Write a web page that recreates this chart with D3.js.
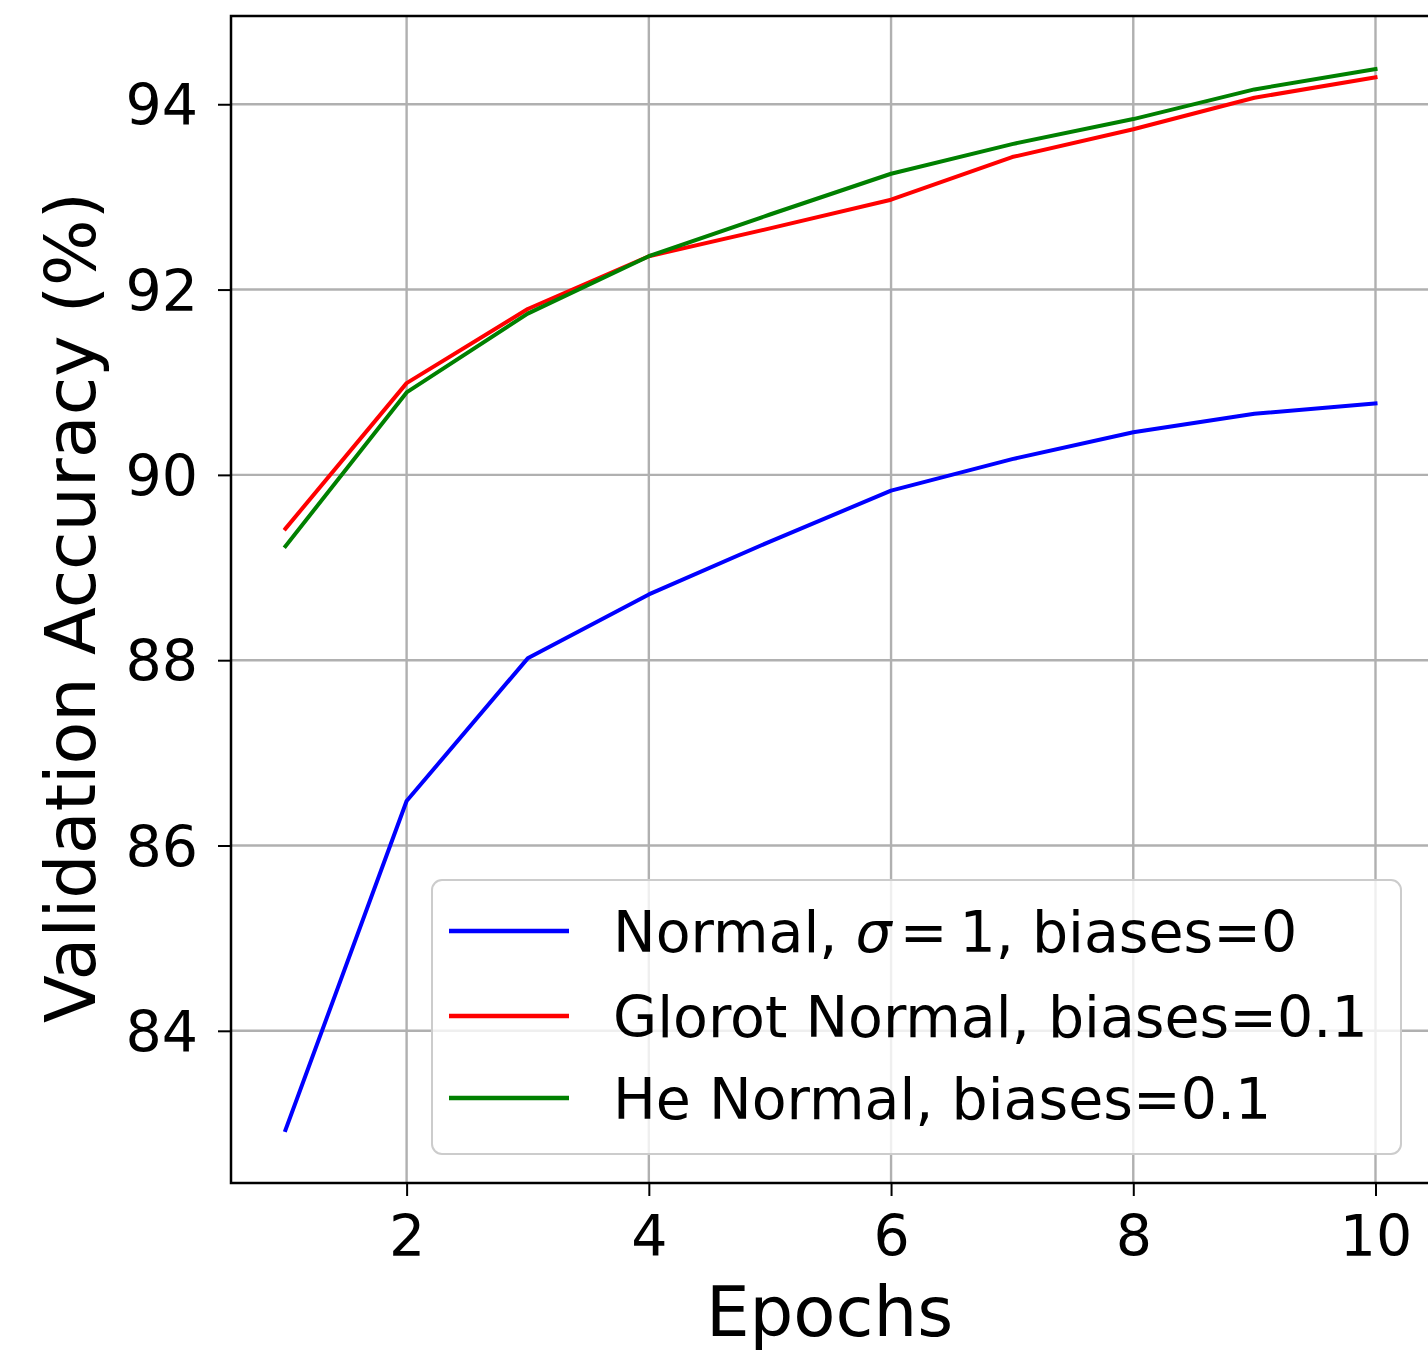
<!DOCTYPE html>
<html>
<head>
<meta charset="utf-8">
<script src="https://cdn.jsdelivr.net/npm/d3@7"></script>
<style>
  html, body { margin: 0; padding: 0; background: #fff; }
  svg { display: block; }
  text { font-family: "DejaVu Sans", sans-serif; fill: #000; }
</style>
</head>
<body>
<svg id="chart" width="1428" height="1355"></svg>
<script>
// ---- data ----
const epochs = [1, 2, 3, 4, 5, 6, 7, 8, 9, 10];
const normalSigma1 = [82.93, 86.48, 88.02, 88.71, 89.28, 89.83, 90.17, 90.46, 90.66, 90.77];
const glorotNormal = [89.42, 90.99, 91.79, 92.36, 92.66, 92.97, 93.43, 93.73, 94.07, 94.29];
const heNormal     = [89.23, 90.89, 91.74, 92.36, 92.81, 93.25, 93.57, 93.84, 94.16, 94.38];
const xTicks = [2, 4, 6, 8, 10];
const yTicks = [84, 86, 88, 90, 92, 94];
const seriesNames = ["Normal", "Glorot Normal, biases=0.1", "He Normal, biases=0.1"];
const seriesColors = ["#0000ff", "#ff0000", "#008000"];
const xLabel = "Epochs";
const yLabel = "Validation Accuracy (%)";

const series = [normalSigma1, glorotNormal, heNormal];

// ---- layout ----
const pL = 231, pR = 1430, pT = 16, pB = 1183;
const svg = d3.select("#chart");

// matplotlib-style 5% margins
const xMin = d3.min(epochs), xMax = d3.max(epochs);
const xPad = (xMax - xMin) * 0.05;
const allY = series.flat();
const yMin = d3.min(allY), yMax = d3.max(allY);
const yPad = (yMax - yMin) * 0.05;

const x = d3.scaleLinear().domain([xMin - xPad, xMax + xPad]).range([pL, pR]);
const y = d3.scaleLinear().domain([yMin - yPad, yMax + yPad]).range([pB, pT]);

// clip
svg.append("defs").append("clipPath").attr("id", "clip")
  .append("rect").attr("x", pL).attr("y", pT).attr("width", pR - pL).attr("height", pB - pT);

// grid
const grid = svg.append("g").attr("clip-path", "url(#clip)");
grid.selectAll("line.gx").data(xTicks).enter().append("line")
  .attr("x1", d => x(d)).attr("x2", d => x(d)).attr("y1", pT).attr("y2", pB)
  .attr("stroke", "#b0b0b0").attr("stroke-width", 2.4);
grid.selectAll("line.gy").data(yTicks).enter().append("line")
  .attr("x1", pL).attr("x2", pR).attr("y1", d => y(d)).attr("y2", d => y(d))
  .attr("stroke", "#b0b0b0").attr("stroke-width", 2.4);

// lines
const line = d3.line().x((d, i) => x(epochs[i])).y(d => y(d));
const lines = svg.append("g").attr("clip-path", "url(#clip)");
series.forEach((s, k) => {
  lines.append("path").datum(s).attr("d", line)
    .attr("fill", "none").attr("stroke", seriesColors[k]).attr("stroke-width", 4)
    .attr("stroke-linejoin", "round").attr("stroke-linecap", "square");
});

// axes
const xAxis = d3.axisBottom(x).tickValues(xTicks).tickSize(13).tickPadding(20).tickFormat(d3.format("d"));
const yAxis = d3.axisLeft(y).tickValues(yTicks).tickSize(13).tickPadding(20).tickFormat(d3.format("d"));

const gx = svg.append("g").attr("transform", `translate(0,${pB})`).call(xAxis);
const gy = svg.append("g").attr("transform", `translate(${pL},0)`).call(yAxis);
[gx, gy].forEach(g => {
  g.select(".domain").remove();
  g.selectAll(".tick line").attr("stroke", "#000").attr("stroke-width", 2);
  g.selectAll(".tick text").attr("font-family", "DejaVu Sans").attr("font-size", 57).attr("fill", "#000");
});
gx.selectAll(".tick text").attr("dy", "0.71em");
gy.selectAll(".tick text").attr("dy", "0.36em");

// spines
svg.append("rect").attr("x", pL).attr("y", pT).attr("width", pR - pL).attr("height", pB - pT)
  .attr("fill", "none").attr("stroke", "#000").attr("stroke-width", 2.5);

// axis labels
svg.append("text").attr("x", (pL + pR) / 2 - 1).attr("y", 1336)
  .attr("text-anchor", "middle").attr("font-size", 69).text(xLabel);
svg.append("text").attr("transform", `translate(95,${(pT + pB) / 2 + 8}) rotate(-90)`)
  .attr("text-anchor", "middle").attr("font-size", 70).text(yLabel);

// legend
const lg = svg.append("g");
lg.append("rect").attr("x", 432).attr("y", 880).attr("width", 969).attr("height", 274)
  .attr("rx", 10).attr("ry", 10)
  .attr("fill", "#fff").attr("fill-opacity", 0.8).attr("stroke", "#cccccc").attr("stroke-width", 2);
const rowY = [931, 1016, 1098];
series.forEach((s, k) => {
  lg.append("line").attr("x1", 449).attr("x2", 569).attr("y1", rowY[k]).attr("y2", rowY[k])
    .attr("stroke", seriesColors[k]).attr("stroke-width", 4.5);
  const t = lg.append("text").attr("x", 613).attr("y", rowY[k] + 21).attr("font-size", 57);
  if (k === 0) {
    t.append("tspan").text(seriesNames[0] + ", ");
    t.append("tspan").attr("font-style", "italic").text("σ");
    t.append("tspan").attr("dx", 8).text("=");
    t.append("tspan").attr("dx", 12).text("1, biases=0");
  } else {
    t.text(seriesNames[k]);
  }
});
</script>
</body>
</html>
